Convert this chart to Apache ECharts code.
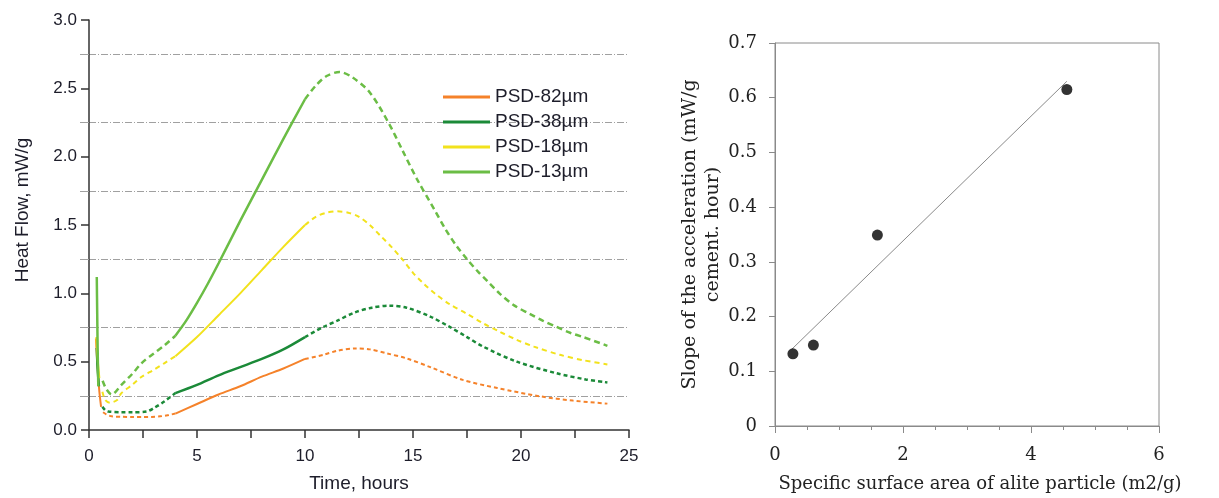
<!DOCTYPE html>
<html>
<head>
<meta charset="utf-8">
<script src="https://cdn.jsdelivr.net/npm/echarts@6/dist/echarts.min.js"></script>
<style>
  html, body { margin: 0; padding: 0; background: #fff; }
  #chart { width: 1219px; height: 498px; }
</style>
</head>
<body>
<div id="chart"></div>
<script>
// ---------- Left panel: heat flow curves (time in hours, mW/g) ----------
const legendNames = ['PSD-82\u00b5m', 'PSD-38\u00b5m', 'PSD-18\u00b5m', 'PSD-13\u00b5m'];
const xTicksLeft = [0, 5, 10, 15, 20, 25];

// PSD-82µm
const psd82SolidEarly = [[0.32, 0.67], [0.40, 0.45], [0.48, 0.28], [0.56, 0.17]];
const psd82DashEarly = [[0.65, 0.13], [0.8, 0.115], [1.05, 0.10], [1.5, 0.097], [2.0, 0.095], [2.5, 0.095], [2.9, 0.096], [3.3, 0.10], [3.7, 0.11], [4.0, 0.12]];
const psd82SolidMain = [[4.0, 0.12], [5.0, 0.19], [6.0, 0.26], [7.0, 0.32], [8.0, 0.39], [9.0, 0.45], [10.0, 0.52]];
const psd82DashLate = [[10.0, 0.52], [10.85, 0.55], [11.5, 0.58], [12.3, 0.596], [13.0, 0.59], [13.8, 0.56], [14.7, 0.524], [15.8, 0.46], [17.3, 0.367], [18.9, 0.307], [20.9, 0.246], [22.4, 0.215], [24.0, 0.193]];

// PSD-38µm
const psd38SolidEarly = [[0.36, 0.60], [0.40, 0.45], [0.46, 0.32]];
const psd38DashEarly = [[0.62, 0.17], [0.75, 0.145], [0.9, 0.135], [1.5, 0.13], [2.0, 0.13], [2.67, 0.135], [3.0, 0.16], [3.5, 0.21], [4.0, 0.27]];
const psd38SolidMain = [[4.0, 0.27], [5.0, 0.33], [6.0, 0.40], [7.0, 0.46], [8.0, 0.52], [9.0, 0.59], [10.0, 0.68]];
const psd38DashLate = [[10.0, 0.68], [10.85, 0.754], [11.5, 0.80], [12.3, 0.86], [13.1, 0.895], [13.9, 0.91], [14.7, 0.895], [15.8, 0.83], [16.7, 0.754], [17.5, 0.68], [18.25, 0.61], [19.8, 0.50], [21.65, 0.415], [23.0, 0.37], [24.0, 0.348]];

// PSD-18µm
const psd18SolidEarly = [[0.34, 0.68], [0.40, 0.52], [0.48, 0.38]];
const psd18DashEarly = [[0.62, 0.28], [0.75, 0.22], [0.97, 0.20], [1.3, 0.22], [1.5, 0.27], [2.0, 0.33], [2.44, 0.39], [3.0, 0.44], [3.5, 0.49], [4.0, 0.54]];
const psd18SolidMain = [[4.0, 0.54], [5.0, 0.68], [6.0, 0.84], [7.0, 1.0], [8.0, 1.17], [9.0, 1.34], [10.0, 1.50]];
const psd18DashLate = [[10.0, 1.50], [10.5, 1.56], [11.0, 1.59], [11.5, 1.60], [12.0, 1.59], [12.5, 1.56], [13.0, 1.50], [13.5, 1.42], [14.0, 1.34], [14.5, 1.25], [15.0, 1.15], [15.5, 1.07], [16.0, 1.0], [16.7, 0.92], [17.5, 0.85], [18.25, 0.78], [19.0, 0.72], [19.8, 0.66], [20.6, 0.61], [21.8, 0.55], [22.9, 0.51], [24.0, 0.48]];

// PSD-13µm
const psd13SolidEarly = [[0.36, 1.12], [0.38, 0.85], [0.40, 0.6], [0.43, 0.32]];
const psd13DashEarly = [[0.63, 0.36], [0.8, 0.30], [1.05, 0.26], [1.5, 0.33], [2.0, 0.41], [2.44, 0.49], [3.0, 0.56], [3.5, 0.62], [4.0, 0.69]];
const psd13SolidMain = [[4.0, 0.69], [4.5, 0.80], [5.0, 0.93], [5.5, 1.07], [6.0, 1.22], [7.0, 1.53], [8.0, 1.83], [9.0, 2.13], [10.0, 2.42]];
const psd13DashLate = [[10.0, 2.42], [10.5, 2.52], [11.0, 2.59], [11.6, 2.62], [12.2, 2.58], [13.0, 2.47], [13.86, 2.25], [14.5, 2.05], [15.17, 1.84], [16.0, 1.61], [16.5, 1.47], [17.0, 1.35], [17.5, 1.25], [18.0, 1.16], [18.5, 1.08], [19.0, 1.00], [19.7, 0.91], [20.4, 0.85], [21.0, 0.80], [21.65, 0.754], [22.3, 0.71], [22.88, 0.68], [24.0, 0.616]];

// ---------- Right panel: slope vs specific surface area ----------
const surfaceArea = [0.28, 0.60, 1.60, 4.56];
const slopeAccel = [0.132, 0.148, 0.349, 0.615];
const trendX = [0.26, 4.56];
const trendY = [0.14, 0.63];

// ---------- Build ----------
const colors = ['#f5822a', '#1b8a38', '#f2e21c', '#6bbd45'];
const widths = [2, 2.5, 2, 2.5];
const dashes = [[4, 3], [4, 3], [5, 4], [6, 4]];
const groups = [
  [psd82SolidEarly, psd82DashEarly, psd82SolidMain, psd82DashLate],
  [psd38SolidEarly, psd38DashEarly, psd38SolidMain, psd38DashLate],
  [psd18SolidEarly, psd18DashEarly, psd18SolidMain, psd18DashLate],
  [psd13SolidEarly, psd13DashEarly, psd13SolidMain, psd13DashLate]
];

const series = [];
groups.forEach((g, i) => {
  series.push({
    name: legendNames[i], type: 'line', xAxisIndex: 0, yAxisIndex: 0,
    data: g[0].concat([null], g[2]), showSymbol: false, symbol: 'none', smooth: 0.3,
    connectNulls: false, z: 3,
    lineStyle: { color: colors[i], width: widths[i], type: 'solid' },
    itemStyle: { color: colors[i] }
  });
  series.push({
    name: legendNames[i] + ' (extrapolated)', type: 'line', xAxisIndex: 0, yAxisIndex: 0,
    data: g[1].concat([null], g[3]), showSymbol: false, symbol: 'none', smooth: 0.3,
    connectNulls: false, z: 3,
    lineStyle: { color: colors[i], width: widths[i], type: dashes[i] },
    itemStyle: { color: colors[i] }
  });
});

series.push({
  name: 'trend', type: 'line', xAxisIndex: 1, yAxisIndex: 1,
  data: trendX.map((x, i) => [x, trendY[i]]), showSymbol: false, symbol: 'none',
  lineStyle: { color: '#8a8a8a', width: 1 }
});
series.push({
  name: 'measured', type: 'scatter', xAxisIndex: 1, yAxisIndex: 1,
  data: surfaceArea.map((x, i) => [x, slopeAccel[i]]), symbol: 'circle', symbolSize: 11,
  itemStyle: { color: '#000' }, z: 5
});

const sans = 'Liberation Sans, Arial, sans-serif';
const serif = 'DejaVu Serif, serif';
const darkText = '#1d1d2a';
const gridDash = [7, 2, 1, 2];

const option = {
  animation: false,
  backgroundColor: '#fff',
  legend: {
    data: legendNames, orient: 'vertical', left: 443, top: 86, padding: 0,
    icon: 'rect', itemWidth: 47, itemHeight: 3, itemGap: 3,
    textStyle: { fontFamily: sans, fontSize: 19, lineHeight: 22, color: darkText }
  },
  grid: [
    { left: 89, right: 590, top: 20, bottom: 64 },
    { left: 775, right: 60, top: 43, bottom: 70, show: true, borderColor: '#8a8a8a', borderWidth: 1, backgroundColor: 'transparent' }
  ],
  xAxis: [
    {
      gridIndex: 0, type: 'value', min: 0, max: 25, interval: 5,
      name: 'Time, hours', nameLocation: 'middle', nameGap: 44,
      nameTextStyle: { fontFamily: sans, fontSize: 19, color: darkText },
      axisLine: { lineStyle: { color: '#333', width: 1.5 } },
      axisTick: { show: true, length: 8, lineStyle: { color: '#333', width: 1.5 } },
      minorTick: { show: true, splitNumber: 2, length: 8, lineStyle: { color: '#333', width: 1.5 } },
      splitLine: { show: false },
      axisLabel: { fontFamily: sans, fontSize: 17, color: darkText, margin: 18 }
    },
    {
      gridIndex: 1, type: 'value', min: 0, max: 6, interval: 2,
      name: 'Specific surface area of alite particle (m2/g)', nameLocation: 'middle', nameGap: 49,
      nameTextStyle: { fontFamily: serif, fontSize: 18, color: '#222', padding: [0, 0, 0, 26] },
      axisLine: { lineStyle: { color: '#8a8a8a', width: 1 } },
      axisTick: { show: true, length: 7, lineStyle: { color: '#8a8a8a' } },
      minorTick: { show: true, splitNumber: 4, length: 4, lineStyle: { color: '#8a8a8a' } },
      splitLine: { show: false },
      axisLabel: { fontFamily: serif, fontSize: 18, color: '#222', margin: 20 }
    }
  ],
  yAxis: [
    {
      gridIndex: 0, type: 'value', min: 0, max: 3, interval: 0.5,
      name: 'Heat Flow, mW/g', nameLocation: 'middle', nameGap: 57,
      nameTextStyle: { fontFamily: sans, fontSize: 19, color: darkText, padding: [0, 0, 0, 30] },
      axisLine: { show: true, lineStyle: { color: '#333', width: 1.5 } },
      axisTick: { show: true, length: 8, lineStyle: { color: '#333', width: 1.5 } },
      minorTick: { show: true, splitNumber: 2, length: 9, lineStyle: { color: '#a0a0a0', width: 1 } },
      splitLine: { show: false },
      minorSplitLine: { show: true, lineStyle: { color: '#a0a0a0', width: 1, type: gridDash } },
      axisLabel: { fontFamily: sans, fontSize: 17, color: darkText, margin: 12, formatter: v => v.toFixed(1) }
    },
    {
      gridIndex: 1, type: 'value', min: 0, max: 0.7, interval: 0.1,
      name: 'Slope of the acceleration (mW/g\ncement. hour)', nameLocation: 'middle', nameGap: 50,
      nameTextStyle: { fontFamily: serif, fontSize: 19, color: '#222', lineHeight: 23, align: 'center' },
      axisLine: { show: true, lineStyle: { color: '#8a8a8a', width: 1 } },
      axisTick: { show: true, length: 6, lineStyle: { color: '#8a8a8a' } },
      splitLine: { show: false },
      axisLabel: { fontFamily: serif, fontSize: 18, color: '#222', margin: 18 }
    }
  ],
  series: series
};

const chart = echarts.init(document.getElementById('chart'), null, { renderer: 'canvas' });
chart.setOption(option);
</script>
</body>
</html>
